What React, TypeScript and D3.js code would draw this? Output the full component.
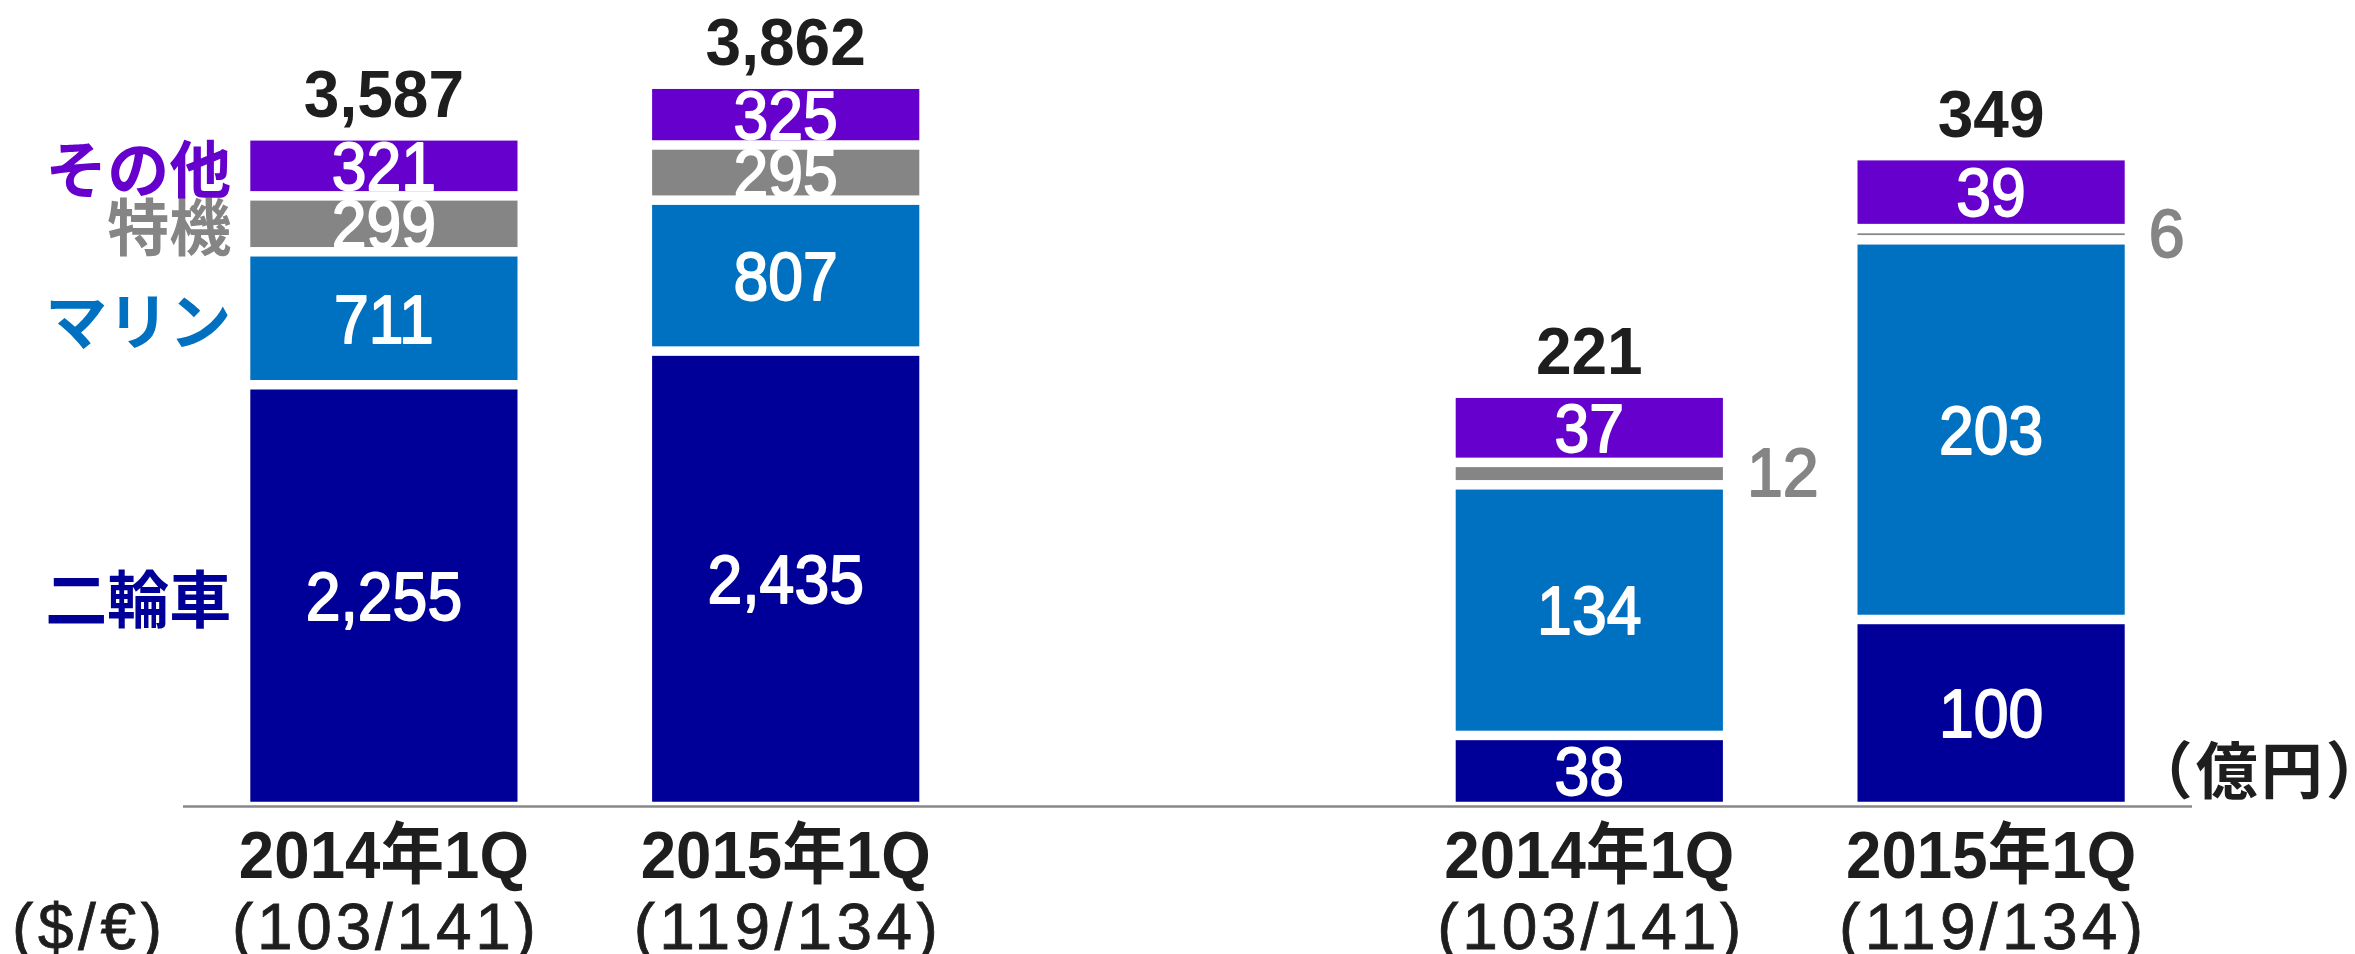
import React from "react";
import * as d3 from "d3";

const W = 2355;
const H = 954;

// periods and fx rates under each bar
const periods = ["2014年1Q", "2015年1Q"];
const fxRates = ["(103/141)", "(119/134)"];
const fxCaption = "($/€)";
const unitLabel = "（億円）";

// segments, bottom to top
const segKeys = ["twoWheel", "marine", "special", "other"];
const segNames = ["二輪車", "マリン", "特機", "その他"];
const segColors = ["#000099", "#0070C0", "#858585", "#6600CC"];

// 売上高 (left panel)
const salesTwoWheel = [2255, 2435];
const salesMarine = [711, 807];
const salesSpecial = [299, 295];
const salesOther = [321, 325];
const salesTotal = [3587, 3862];

// 営業利益 (right panel)
const opTwoWheel = [38, 100];
const opMarine = [134, 203];
const opSpecial = [12, 6];
const opOther = [37, 39];
const opTotal = [221, 349];

const slots = ["sales-0", "sales-1", "gap", "op-0", "op-1"];

const LATIN = "'Liberation Sans', Arial, 'Noto Sans CJK JP', sans-serif";
const CJK = "'Noto Sans CJK JP', 'Noto Sans', sans-serif";

const baseY = 806.5;
const topY = 58.4;
const gap = 4.75;

const x = d3.scaleBand<string>()
  .domain(slots)
  .range([183, 2192])
  .paddingInner(0.335)
  .paddingOuter(0.1675);

const ySales = d3.scaleLinear().domain([0, 4000]).range([baseY, topY]);
const yOp = d3.scaleLinear().domain([0, 400]).range([baseY, topY]);

function makeRows(prefix, a, b, c, d) {
  return periods.map((p, i) => ({
    slot: `${prefix}-${i}`,
    twoWheel: a[i],
    marine: b[i],
    special: c[i],
    other: d[i],
  }));
}

const panels = [
  {
    rows: makeRows("sales", salesTwoWheel, salesMarine, salesSpecial, salesOther),
    totals: salesTotal,
    y: ySales,
  },
  {
    rows: makeRows("op", opTwoWheel, opMarine, opSpecial, opOther),
    totals: opTotal,
    y: yOp,
  },
];

const stack = d3.stack<any>().keys(segKeys);
const fmt = d3.format(",");

function Num({ x0, y0, text, fill, size = 68, sx = 0.92, anchor = "middle", weight = 400, stroke = 1.8 }) {
  return (
    <text
      transform={`translate(${x0},${y0}) scale(${sx},1)`}
      textAnchor={anchor}
      fontFamily={LATIN}
      fontSize={size}
      fontWeight={weight}
      fill={fill}
      stroke={stroke ? fill : "none"}
      strokeWidth={stroke}
      strokeLinejoin="round"
    >
      {text}
    </text>
  );
}

export default function App() {
  const bw = x.bandwidth();
  const firstStack = stack(panels[0].rows);

  return (
    <svg
      width={W}
      height={H}
      style={{ position: "absolute", left: 0, top: 0, background: "#fff" }}
    >
      {panels.map((panel, pi) => {
        const series = stack(panel.rows);
        return (
          <g key={pi}>
            {series.map((s, si) =>
              s.map((d, ri) => {
                const slot = panel.rows[ri].slot;
                const x0 = x(slot);
                const yTop = panel.y(d[1]);
                const yBot = panel.y(d[0]);
                const hgt = yBot - yTop;
                const value = d[1] - d[0];
                const cy = (yTop + yBot) / 2;
                const inside = hgt >= 40;
                return (
                  <g key={`${si}-${ri}`}>
                    <rect
                      x={x0}
                      y={yTop + gap}
                      width={bw}
                      height={Math.max(0, hgt - gap * 2)}
                      fill={segColors[si]}
                    />
                    {inside ? (
                      <Num x0={x0 + bw / 2} y0={cy + 0.716 * 68 / 2} text={fmt(value)} fill="#ffffff" />
                    ) : (
                      <Num
                        x0={x0 + bw + 24}
                        y0={cy + 0.716 * 68 / 2 - 2}
                        text={fmt(value)}
                        fill={segColors[si]}
                        anchor="start"
                        sx={0.95}
                      />
                    )}
                  </g>
                );
              })
            )}
            {panel.rows.map((r, ri) => {
              const top = panel.y(series[series.length - 1][ri][1]);
              return (
                <Num
                  key={`t${ri}`}
                  x0={x(r.slot) + bw / 2}
                  y0={top - 19}
                  text={fmt(panel.totals[ri])}
                  fill="#1e1e1e"
                  size={66}
                  sx={0.97}
                  weight={700}
                  stroke={0}
                />
              );
            })}
            {panel.rows.map((r, ri) => (
              <g key={`a${ri}`}>
                <text
                  transform={`translate(${x(r.slot) + bw / 2},${baseY + 71.5}) scale(0.95,1)`}
                  textAnchor="middle"
                  fontFamily={LATIN}
                  fontSize={67}
                  fontWeight={700}
                  fill="#1e1e1e"
                >
                  {periods[ri]}
                </text>
                <text
                  x={x(r.slot) + bw / 2}
                  y={baseY + 142}
                  textAnchor="middle"
                  fontFamily={LATIN}
                  fontSize={64}
                  fill="#1e1e1e"
                  stroke="#1e1e1e"
                  strokeWidth={0.8}
                  textLength={304}
                  lengthAdjust="spacing"
                >
                  {fxRates[ri]}
                </text>
              </g>
            ))}
          </g>
        );
      })}

      {/* segment names beside the first bar */}
      {firstStack.map((s, si) => (
        <text
          key={segKeys[si]}
          x={x("sales-0") - 19}
          y={ySales((s[0][0] + s[0][1]) / 2)}
          textAnchor="end"
          dominantBaseline="central"
          fontFamily={CJK}
          fontSize={62}
          fontWeight={700}
          fill={segColors[si]}
        >
          {segNames[si]}
        </text>
      ))}

      <line
        x1={x.range()[0]}
        x2={x.range()[1]}
        y1={baseY}
        y2={baseY}
        stroke="#888888"
        strokeWidth={2.7}
      />

      <text
        x={12}
        y={baseY + 142}
        fontFamily={LATIN}
        fontSize={64}
        fill="#1e1e1e"
        stroke="#1e1e1e"
        strokeWidth={0.8}
        textLength={150}
        lengthAdjust="spacing"
      >
        {fxCaption}
      </text>

      <text
        x={x("op-1") + bw + 6}
        y={baseY - 40}
        dominantBaseline="central"
        fontFamily={CJK}
        fontSize={62}
        fontWeight={700}
        fill="#1e1e1e"
        letterSpacing={3}
      >
        {unitLabel}
      </text>
    </svg>
  );
}
